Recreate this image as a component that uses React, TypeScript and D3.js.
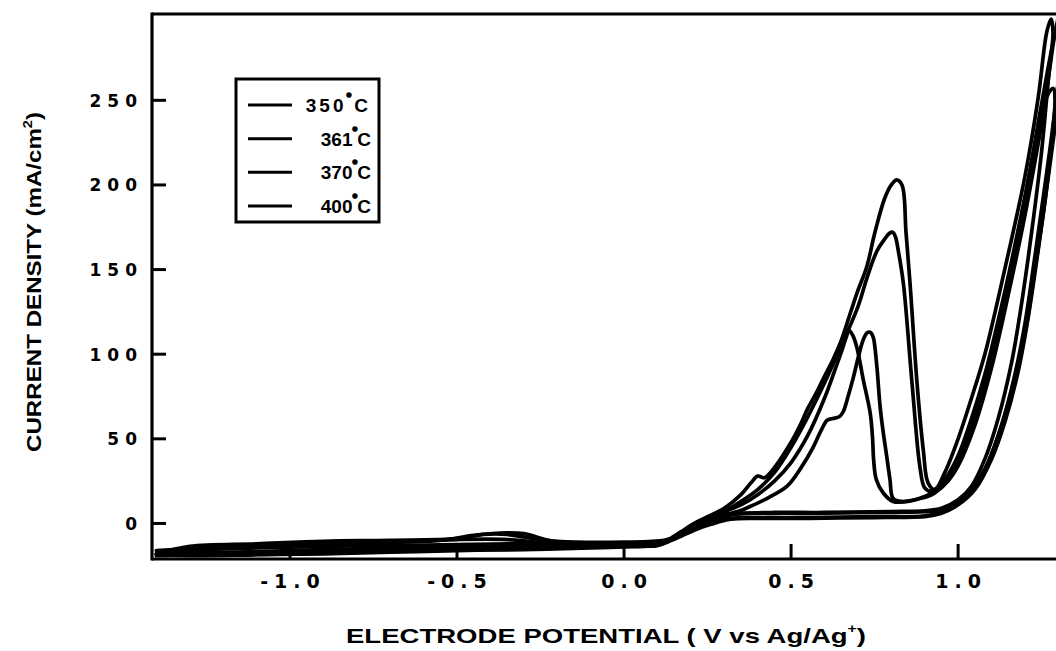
import React from 'react';
import * as d3 from 'd3';

const W = 1056;
const H = 651;

const xTicks = [-1.0, -0.5, 0.0, 0.5, 1.0];
const xTickLabels = ['-1.0', '-0.5', '0.0', '0.5', '1.0'];
const yTicks = [0, 50, 100, 150, 200, 250];
const yTickLabels = ['0', '50', '100', '150', '200', '250'];
const legendLabels = ['350', '361', '370', '400'];

// Each series: one cyclic scan [potential V, current density mA/cm2]
const curve350: [number, number][] = [
  [-1.40, -18], [-1.30, -19], [-1.10, -18.5], [-0.90, -18], [-0.70, -17], [-0.50, -16], [-0.30, -15.5], [-0.10, -14.5], [0.05, -13.5], [0.10, -13],
  [0.13, -10], [0.17, -5], [0.21, 0], [0.25, 4], [0.30, 9], [0.35, 17], [0.38, 24], [0.40, 28], [0.42, 27], [0.45, 33], [0.50, 48], [0.527, 58],
  [0.55, 68], [0.578, 78], [0.60, 87], [0.626, 97], [0.65, 108], [0.667, 118], [0.697, 136], [0.727, 152], [0.751, 172], [0.78, 192], [0.80, 200],
  [0.816, 203], [0.832, 200], [0.844, 172], [0.856, 142], [0.877, 83], [0.896, 43], [0.91, 24],
  [0.93, 20], [0.96, 30], [1.00, 50], [1.04, 74], [1.08, 100], [1.12, 133], [1.16, 168], [1.20, 205], [1.24, 252], [1.265, 290], [1.278, 298],
  [1.284, 290], [1.27, 262], [1.25, 220], [1.22, 172], [1.19, 130], [1.16, 95], [1.12, 62], [1.08, 38], [1.04, 22], [1.00, 14], [0.95, 9],
  [0.90, 7.5], [0.80, 7], [0.60, 6.5], [0.45, 6.5], [0.35, 6], [0.30, 5], [0.25, 1], [0.20, -3], [0.15, -8], [0.12, -10],
  [0.0, -11], [-0.2, -10.5], [-0.3, -8], [-0.35, -6.5], [-0.42, -6.5], [-0.5, -9], [-0.7, -10], [-0.9, -10.5], [-1.1, -12], [-1.3, -13.5], [-1.40, -18],
];

const curve361: [number, number][] = [
  [-1.40, -16], [-1.20, -17], [-1.00, -16], [-0.80, -15], [-0.60, -14.5], [-0.40, -13], [-0.20, -13], [0.00, -12.5], [0.10, -12],
  [0.13, -10.5], [0.17, -6], [0.21, -1], [0.25, 3], [0.30, 7], [0.35, 13], [0.40, 20], [0.45, 30], [0.50, 45], [0.55, 63], [0.60, 83],
  [0.65, 105], [0.70, 128], [0.727, 145], [0.757, 161], [0.78, 168], [0.795, 171.5], [0.805, 172], [0.813, 169], [0.821, 161], [0.836, 142],
  [0.862, 83], [0.886, 33], [0.90, 21],
  [0.92, 19], [0.96, 26], [1.00, 40], [1.04, 62], [1.08, 88], [1.12, 120], [1.16, 155], [1.20, 193], [1.24, 232], [1.27, 254], [1.285, 257],
  [1.29, 250], [1.28, 225], [1.26, 190], [1.23, 150], [1.20, 112], [1.16, 78], [1.12, 52], [1.08, 32], [1.04, 20], [1.00, 12], [0.95, 8],
  [0.90, 7], [0.75, 6.5], [0.55, 6], [0.40, 6], [0.32, 5], [0.26, 1.5], [0.21, -2], [0.16, -7], [0.12, -10.5],
  [0.00, -11.5], [-0.20, -12], [-0.35, -9.5], [-0.50, -9.5], [-0.70, -11], [-0.90, -12], [-1.10, -13], [-1.30, -15], [-1.40, -16],
];

const curve370: [number, number][] = [
  [-1.40, -19], [-1.20, -18.5], [-1.00, -18], [-0.80, -17], [-0.60, -16], [-0.40, -15], [-0.20, -14], [0.00, -13.5], [0.10, -13],
  [0.13, -11], [0.17, -6], [0.21, -1.5], [0.25, 2], [0.30, 5], [0.34, 7], [0.377, 10], [0.43, 15], [0.488, 22], [0.53, 33], [0.566, 45],
  [0.59, 55], [0.608, 61], [0.625, 62], [0.644, 63], [0.656, 66], [0.672, 76], [0.686, 86], [0.701, 98], [0.715, 108], [0.727, 112.5],
  [0.737, 113], [0.746, 110], [0.751, 104], [0.758, 90], [0.766, 70], [0.775, 55], [0.786, 40], [0.796, 26], [0.805, 15],
  [0.83, 13], [0.87, 14], [0.91, 16], [0.93, 18], [0.97, 25], [1.00, 34], [1.05, 58], [1.10, 92], [1.15, 135], [1.20, 182], [1.25, 236], [1.30, 295],
  [1.31, 290], [1.29, 245], [1.26, 200], [1.23, 158], [1.20, 118], [1.17, 88], [1.13, 58], [1.09, 36], [1.05, 22], [1.00, 12], [0.95, 7],
  [0.90, 4.5], [0.75, 4], [0.55, 3.5], [0.40, 3.5], [0.32, 3], [0.26, 0], [0.21, -3], [0.16, -8], [0.12, -11],
  [0.00, -12], [-0.20, -11], [-0.30, -6], [-0.35, -5.5], [-0.45, -7], [-0.55, -10], [-0.80, -11.5], [-1.00, -12], [-1.20, -14], [-1.40, -19],
];

const curve400: [number, number][] = [
  [-1.40, -18], [-1.20, -18], [-1.00, -17], [-0.80, -16.5], [-0.60, -15.5], [-0.40, -14], [-0.20, -13.5], [0.00, -13], [0.10, -12.5],
  [0.13, -10.5], [0.17, -5.5], [0.21, -1], [0.25, 3], [0.30, 7], [0.35, 11], [0.40, 17], [0.45, 25], [0.50, 36], [0.55, 52], [0.60, 74],
  [0.63, 90], [0.65, 101], [0.665, 110], [0.674, 114], [0.685, 111], [0.697, 104], [0.716, 85], [0.737, 65], [0.744, 50], [0.747, 38],
  [0.755, 26], [0.776, 18], [0.805, 13], [0.85, 13], [0.90, 16], [0.93, 19],
  [0.97, 27], [1.00, 37], [1.05, 63], [1.10, 98], [1.15, 142], [1.20, 192], [1.25, 248], [1.29, 290], [1.31, 305],
  [1.32, 290], [1.30, 250], [1.27, 205], [1.24, 162], [1.21, 122], [1.18, 90], [1.14, 60], [1.10, 38], [1.05, 20], [1.00, 11], [0.95, 6],
  [0.90, 4], [0.75, 3.5], [0.55, 3], [0.40, 3], [0.32, 2.5], [0.26, -0.5], [0.21, -4], [0.16, -8.5], [0.12, -11],
  [-0.10, -12], [-0.30, -12], [-0.50, -12.5], [-0.70, -13], [-0.90, -13.5], [-1.10, -14.5], [-1.30, -16], [-1.40, -18],
];

const seriesList = [curve350, curve361, curve370, curve400];

const LEFT = 152;
const RIGHT = 1056;
const TOP = 14;
const BOTTOM = 559;

const FONT = '"Liberation Sans", Arial, Helvetica, sans-serif';
const TICKFONT = '"DejaVu Sans", "Liberation Sans", sans-serif';

export default function App() {
  const x = d3.scaleLinear().domain([-1.413, 1.293]).range([LEFT, RIGHT]);
  const y = d3.scaleLinear().domain([-21, 301]).range([BOTTOM, TOP]);
  const line = d3
    .line<[number, number]>()
    .x((d) => x(d[0]))
    .y((d) => y(d[1]))
    .curve(d3.curveCatmullRom.alpha(0.5));

  const legendY = d3.scaleLinear().domain([0, 3]).range([105, 206]);

  return (
    <svg
      width={W}
      height={H}
      viewBox={`0 0 ${W} ${H}`}
      style={{ position: 'absolute', left: 0, top: 0, background: '#fff' }}
      fontFamily={FONT}
    >
      <defs>
        <clipPath id="plotclip">
          <rect x={LEFT} y={TOP - 2} width={RIGHT - LEFT} height={BOTTOM - TOP + 2} />
        </clipPath>
      </defs>
      <rect x={0} y={0} width={W} height={H} fill="#fff" />

      {/* curves */}
      <g clipPath="url(#plotclip)">
        {seriesList.map((s, i) => (
          <path
            key={i}
            d={line(s) || ''}
            fill="none"
            stroke="#000"
            strokeWidth={3.7}
            strokeLinejoin="round"
            strokeLinecap="round"
          />
        ))}
      </g>

      {/* frame */}
      <line x1={LEFT} x2={RIGHT + 2} y1={TOP} y2={TOP} stroke="#000" strokeWidth={3} />
      <line x1={LEFT} x2={LEFT} y1={TOP - 1.5} y2={BOTTOM + 1.5} stroke="#000" strokeWidth={3.2} />
      <line x1={LEFT} x2={RIGHT + 2} y1={BOTTOM} y2={BOTTOM} stroke="#000" strokeWidth={3} />

      {/* y ticks */}
      {yTicks.map((t, i) => (
        <g key={'y' + i}>
          <line x1={LEFT} x2={LEFT + 14} y1={y(t)} y2={y(t)} stroke="#000" strokeWidth={3} />
          <text
            x={143}
            y={y(t) + 6.5}
            textAnchor="end"
            fontFamily={TICKFONT}
            fontSize={17}
            fontWeight="bold"
            letterSpacing={6}
            fill="#000"
          >
            {yTickLabels[i]}
          </text>
        </g>
      ))}

      {/* x ticks */}
      {xTicks.map((t, i) => (
        <g key={'x' + i}>
          <line x1={x(t)} x2={x(t)} y1={BOTTOM} y2={BOTTOM - 15} stroke="#000" strokeWidth={3} />
          <text
            x={x(t) + 3}
            y={588}
            textAnchor="middle"
            fontFamily={TICKFONT}
            fontSize={19}
            fontWeight="bold"
            letterSpacing={6}
            fill="#000"
          >
            {xTickLabels[i]}
          </text>
        </g>
      ))}

      {/* x title */}
      <text
        x={606}
        y={643}
        textAnchor="middle"
        fontSize={21}
        fontWeight="bold"
        fill="#000"
        textLength={520}
        lengthAdjust="spacingAndGlyphs"
      >
        ELECTRODE POTENTIAL ( V vs Ag/Ag
        <tspan fontSize={12} dy={-10}>+</tspan>
        <tspan dy={10}>)</tspan>
      </text>

      {/* y title */}
      <text
        transform={`translate(41, 282) rotate(-90)`}
        textAnchor="middle"
        fontSize={20}
        fontWeight="bold"
        fill="#000"
        textLength={340}
        lengthAdjust="spacingAndGlyphs"
      >
        CURRENT DENSITY (mA/cm
        <tspan fontSize={12} dy={-9}>2</tspan>
        <tspan dy={9}>)</tspan>
      </text>

      {/* legend */}
      <rect x={236} y={79} width={143} height={143} fill="#fff" stroke="#000" strokeWidth={3} />
      {legendLabels.map((lab, i) => (
        <g key={'l' + i}>
          <line x1={248} x2={292} y1={legendY(i)} y2={legendY(i)} stroke="#000" strokeWidth={3} />
          <text
            x={371}
            y={legendY(i) + 7}
            textAnchor="end"
            fontSize={19}
            fontWeight="bold"
            letterSpacing={i === 0 ? 3 : 0}
            fill="#000"
          >
            {lab}
            <tspan fontSize={12} dy={-10} stroke="#000" strokeWidth={1.8}>°</tspan>
            <tspan dy={10}>C</tspan>
          </text>
        </g>
      ))}
    </svg>
  );
}
